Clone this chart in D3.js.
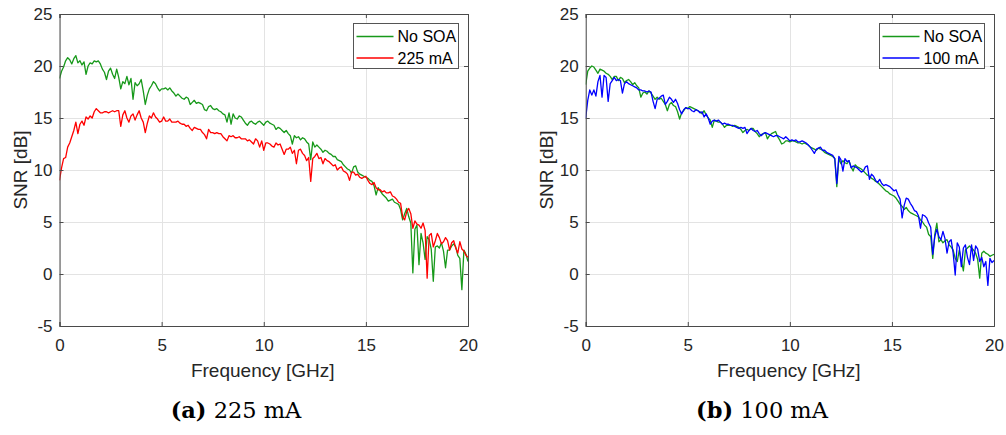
<!DOCTYPE html>
<html>
<head>
<meta charset="utf-8">
<script src="https://cdn.jsdelivr.net/npm/d3@7"></script>
<style>
  html, body { margin: 0; padding: 0; background: #fff; }
  svg { display: block; }
  .tick text { font-family: "Liberation Sans", Arial, sans-serif; font-size: 17px; fill: #262626; }
</style>
</head>
<body>
<svg id="fig" width="1006" height="435"></svg>
<script>
// Frequency sampling of the SNR sweeps (GHz)
const freqStep = 0.1;
const freqCount = 201;

// Panel (a): reference without SOA and SOA biased at 225 mA (dB)
const snrNoSoaA = [
  18.8,19.5,19.9,20.5,20.8,20.6,20.2,20.7,21.0,20.3,
  20.5,20.1,20.4,19.2,20.0,20.3,20.2,20.5,20.4,20.5,
  20.2,19.7,19.4,18.7,19.5,19.8,19.2,18.8,19.7,18.9,
  17.8,18.5,18.3,19.0,18.2,18.8,16.8,18.4,18.1,18.3,
  18.7,17.6,16.3,17.2,17.8,18.1,18.5,18.3,17.9,17.6,
  17.8,17.8,17.9,17.7,17.9,17.6,17.4,17.1,17.3,17.1,
  16.9,16.8,17.0,16.9,16.3,16.5,16.7,16.4,16.5,16.4,
  16.3,15.8,15.7,16.1,16.2,15.9,15.8,15.9,15.7,15.6,
  15.4,15.3,14.6,15.5,14.4,15.4,15.0,14.9,15.2,15.1,
  14.8,14.5,14.3,14.6,14.7,14.5,14.4,14.6,14.7,14.5,
  14.3,14.6,14.7,14.5,14.4,14.3,13.9,14.1,14.0,13.8,
  13.6,13.8,13.5,13.3,12.5,13.3,13.1,13.2,12.9,13.1,
  13.0,12.7,12.5,11.0,12.7,12.2,12.4,12.2,12.0,11.7,
  11.9,11.8,11.6,11.5,11.3,11.3,11.0,10.9,10.8,10.5,
  10.3,10.1,10.0,9.7,10.3,10.4,9.8,9.6,9.5,9.4,
  9.3,9.2,9.0,8.9,8.5,7.6,8.3,8.0,7.7,7.5,
  7.3,7.0,7.1,7.2,6.9,6.8,6.7,6.2,5.2,5.8,
  6.3,5.5,4.9,0.1,4.3,4.7,0.9,3.9,3.0,1.4,
  3.6,3.3,2.4,-0.7,2.6,2.7,2.5,3.0,2.2,0.6,
  2.3,2.3,2.7,2.9,2.6,1.8,1.5,-1.5,2.3,1.9,
  1.2
];
const snr225mA = [
  9.0,10.2,11.1,11.2,12.2,12.6,13.2,13.8,14.6,13.5,
  14.4,14.7,14.3,15.1,14.9,15.2,15.0,15.6,15.9,15.7,
  15.5,15.5,15.6,15.6,15.5,15.6,15.7,15.6,15.7,15.7,
  14.2,15.3,15.7,15.0,14.6,15.2,15.4,14.8,15.3,15.7,
  15.0,14.6,13.6,14.5,15.2,15.0,15.5,15.1,14.9,14.6,
  14.7,15.1,14.7,14.7,14.9,14.6,14.6,14.6,14.7,14.5,
  14.4,14.4,14.2,14.3,14.0,13.8,14.1,14.0,13.9,13.9,
  13.6,13.4,13.0,13.9,13.6,13.6,13.5,13.6,13.5,13.5,
  13.2,13.0,12.8,13.3,13.2,13.3,13.1,13.1,13.2,13.0,
  13.0,13.0,12.8,12.9,12.7,12.5,13.0,12.8,12.2,12.8,
  11.9,12.6,12.6,12.5,12.3,12.2,12.6,12.4,12.5,12.0,
  11.5,12.0,12.0,12.2,11.6,11.9,10.6,11.9,12.0,11.6,
  11.4,10.9,11.2,8.9,11.1,11.3,11.6,11.1,11.2,10.6,
  11.1,10.9,10.8,10.6,10.4,10.5,10.0,10.2,10.3,9.9,
  9.8,9.6,9.0,9.8,9.8,9.5,9.6,9.3,9.2,9.3,
  9.4,9.0,8.7,8.6,8.8,8.3,8.1,8.1,7.9,8.0,
  7.8,7.8,7.9,7.5,7.4,7.2,6.9,6.8,5.5,5.2,
  6.0,6.3,5.8,4.4,5.1,4.8,4.7,4.4,4.9,4.2,
  -0.4,3.7,3.9,2.6,3.2,3.9,3.5,2.9,3.1,3.5,
  3.2,2.3,3.0,3.2,2.5,2.0,3.1,2.4,2.2,1.8,
  1.6
];

// Panel (b): reference without SOA and SOA biased at 100 mA (dB)
const snrNoSoaB = [
  18.2,19.5,19.8,20.0,19.9,19.6,19.3,19.7,19.6,19.5,
  19.3,19.2,19.0,18.7,19.0,19.0,18.6,18.9,18.8,18.4,
  18.6,18.7,18.5,18.2,18.4,18.1,17.9,17.0,17.4,17.5,
  17.3,17.6,17.4,17.1,16.8,17.0,16.8,16.9,16.6,16.3,
  15.7,16.3,16.5,16.2,16.1,15.6,14.9,15.5,15.7,16.0,
  15.9,16.1,16.0,15.9,15.8,15.7,15.6,15.4,15.7,15.3,
  15.0,14.8,14.1,14.8,14.7,14.6,14.6,14.4,14.1,14.3,
  14.3,14.3,14.2,14.3,14.2,14.1,13.9,13.6,13.8,13.9,
  13.8,14.0,14.0,13.7,13.5,13.2,13.4,13.5,13.6,13.0,
  13.3,13.5,13.6,13.7,13.2,12.9,12.5,12.6,12.8,12.8,
  12.7,12.8,12.8,12.7,12.6,12.6,12.5,12.6,12.5,12.4,
  12.2,12.1,12.0,11.9,12.1,12.0,11.9,11.7,11.6,11.5,
  11.4,11.3,11.1,8.4,11.1,10.6,10.9,10.7,10.6,10.9,
  10.3,9.9,10.5,10.3,10.2,10.1,9.9,9.7,9.5,9.4,
  9.2,9.1,8.9,8.8,8.6,8.4,8.2,8.0,7.9,7.7,
  7.6,7.5,7.3,7.0,6.7,6.5,6.2,6.4,6.1,5.9,
  5.8,5.7,5.6,5.5,5.2,5.0,4.7,4.5,3.8,3.6,
  1.5,3.8,4.9,3.1,3.3,3.0,3.2,3.3,2.8,2.6,
  2.3,1.5,1.2,2.3,1.3,0.3,2.3,2.5,2.7,2.5,
  2.3,2.0,1.4,-0.4,2.0,2.2,2.0,1.9,1.7,1.8,
  1.9
];
const snr100mA = [
  15.0,16.7,17.7,17.2,17.7,17.1,18.5,19.1,17.0,19.1,
  18.9,16.6,18.3,18.6,18.9,18.6,18.7,18.6,17.4,18.3,
  18.5,18.3,18.2,18.1,18.0,17.9,17.7,17.7,17.6,17.6,
  17.5,17.6,17.5,16.6,15.9,16.8,16.9,17.1,17.2,16.3,
  16.6,17.0,16.8,16.5,16.8,16.4,15.8,15.4,15.8,16.0,
  15.9,15.9,15.7,15.6,15.8,15.7,15.5,15.6,15.1,15.4,
  15.0,14.4,14.7,14.8,14.7,14.8,14.6,14.4,14.5,14.4,
  14.4,14.3,14.3,14.2,14.1,14.0,14.1,14.0,14.1,13.5,
  13.8,14.0,13.8,13.7,13.8,13.5,13.3,13.5,13.6,13.5,
  13.4,13.3,13.2,13.3,13.3,13.2,13.1,13.0,13.2,13.0,
  12.8,12.9,12.8,12.9,12.7,12.7,12.8,12.7,12.6,12.4,
  12.2,11.9,11.6,12.0,12.1,12.2,11.9,11.9,11.7,11.6,
  11.5,11.4,11.1,8.7,11.3,11.0,9.9,11.1,10.8,10.9,
  10.2,10.4,10.3,10.2,10.0,9.8,9.9,10.3,10.4,9.1,
  9.6,9.4,9.0,8.8,9.1,8.7,8.5,8.6,8.5,8.4,
  8.2,8.0,8.1,7.6,7.2,5.4,6.6,7.3,7.2,6.8,
  6.5,6.1,6.0,5.6,4.4,5.7,5.6,5.4,4.9,4.5,
  1.9,3.6,4.3,3.6,3.3,4.1,3.4,2.0,3.1,3.3,
  2.0,-0.1,3.0,2.6,0.7,2.5,2.8,1.6,0.9,2.8,
  1.3,2.7,2.4,1.2,1.6,0.7,1.2,-1.1,1.5,1.1,
  1.3
];

// Axis ticks and labels
const xTicks = [0, 5, 10, 15, 20];
const yTicks = [-5, 0, 5, 10, 15, 20, 25];
const xDomain = [0, 20];
const yDomain = [-5, 25];
const xLabel = "Frequency [GHz]";
const yLabel = "SNR [dB]";

const panels = [
  { left: 59.5, right: 468, tag: "(a)", caption: " 225 mA", capX: 236,
    series: [
      { name: "No SOA", values: snrNoSoaA, color: "#17991a" },
      { name: "225 mA", values: snr225mA, color: "#ff0000" }
    ] },
  { left: 585.7, right: 994, tag: "(b)", caption: " 100 mA", capX: 762,
    series: [
      { name: "No SOA", values: snrNoSoaB, color: "#17991a" },
      { name: "100 mA", values: snr100mA, color: "#0000ff" }
    ] }
];

const plotTop = 14, plotBottom = 326;
const svg = d3.select("#fig");
const freq = d3.range(freqCount).map(i => +(i * freqStep).toFixed(1));
const plainNumber = d => String(d);

panels.forEach((p, pi) => {
  const x = d3.scaleLinear().domain(xDomain).range([p.left, p.right]);
  const y = d3.scaleLinear().domain(yDomain).range([plotBottom, plotTop]);
  const g = svg.append("g");

  // grid
  g.append("g").selectAll("line").data(xTicks).join("line")
    .attr("x1", d => Math.round(x(d)) + 0.5).attr("x2", d => Math.round(x(d)) + 0.5)
    .attr("y1", plotTop).attr("y2", plotBottom)
    .attr("stroke", "#e3e3e3").attr("stroke-width", 1);
  g.append("g").selectAll("line").data(yTicks).join("line")
    .attr("y1", d => Math.round(y(d)) + 0.5).attr("y2", d => Math.round(y(d)) + 0.5)
    .attr("x1", p.left).attr("x2", p.right)
    .attr("stroke", "#e3e3e3").attr("stroke-width", 1);

  // clip region for the traces
  const clipId = "clip" + pi;
  svg.append("clipPath").attr("id", clipId).append("rect")
    .attr("x", p.left).attr("y", plotTop).attr("width", p.right - p.left).attr("height", plotBottom - plotTop);

  const line = d3.line().x((d, i) => x(freq[i])).y(d => y(d));
  p.series.forEach(s => {
    g.append("path").datum(s.values)
      .attr("clip-path", `url(#${clipId})`)
      .attr("d", line)
      .attr("fill", "none").attr("stroke", s.color)
      .attr("stroke-width", 1.3).attr("stroke-linejoin", "round");
  });

  // axes with inward ticks
  const axisColor = "#4a4a4a";
  const xAxis = g.append("g").attr("transform", `translate(0,${plotBottom})`)
    .call(d3.axisBottom(x).tickValues(xTicks).tickFormat(plainNumber).tickSize(-4).tickPadding(13));
  const yAxis = g.append("g").attr("transform", `translate(${p.left},0)`)
    .call(d3.axisLeft(y).tickValues(yTicks).tickFormat(plainNumber).tickSize(-4).tickPadding(7));
  const xAxisTop = g.append("g").attr("transform", `translate(0,${plotTop})`)
    .call(d3.axisTop(x).tickValues(xTicks).tickSize(-4).tickFormat(""));
  const yAxisRight = g.append("g").attr("transform", `translate(${p.right},0)`)
    .call(d3.axisRight(y).tickValues(yTicks).tickSize(-4).tickFormat(""));
  [xAxis, yAxis, xAxisTop, yAxisRight].forEach(a => {
    a.select(".domain").attr("stroke", axisColor);
    a.selectAll(".tick line").attr("stroke", axisColor);
  });

  // axis labels
  g.append("text")
    .attr("x", (p.left + p.right) / 2 - 1).attr("y", 377)
    .attr("text-anchor", "middle")
    .style("font-family", "'Liberation Sans', Arial, sans-serif").style("font-size", "19px")
    .attr("fill", "#262626").text(xLabel);
  g.append("text")
    .attr("transform", `translate(${p.left - 33},${(plotTop + plotBottom) / 2}) rotate(-90)`)
    .attr("text-anchor", "middle")
    .style("font-family", "'Liberation Sans', Arial, sans-serif").style("font-size", "19px")
    .attr("fill", "#262626").text(yLabel);

  // legend
  const lgX = p.right - 115, lgY = 23, lgW = 105, lgH = 45;
  const lg = g.append("g");
  lg.append("rect").attr("x", lgX + 0.5).attr("y", lgY + 0.5).attr("width", lgW).attr("height", lgH)
    .attr("fill", "#fff").attr("stroke", "#555").attr("stroke-width", 1);
  p.series.forEach((s, i) => {
    const ry = lgY + 13.5 + i * 21.5;
    lg.append("line").attr("x1", lgX + 3.5).attr("x2", lgX + 40.5)
      .attr("y1", ry).attr("y2", ry).attr("stroke", s.color).attr("stroke-width", 1.3);
    lg.append("text").attr("x", lgX + 44.5).attr("y", ry).attr("dy", "0.36em")
      .style("font-family", "'Liberation Sans', Arial, sans-serif").style("font-size", "16px")
      .attr("fill", "#000").text(s.name);
  });

  // sub-figure caption
  const cap = svg.append("text").attr("x", p.capX).attr("y", 418)
    .attr("text-anchor", "middle")
    .style("font-family", "'DejaVu Serif', serif").style("font-size", "22.5px").attr("fill", "#000");
  cap.append("tspan").attr("font-weight", "bold").text(p.tag);
  cap.append("tspan").text(p.caption);
});
</script>
</body>
</html>
